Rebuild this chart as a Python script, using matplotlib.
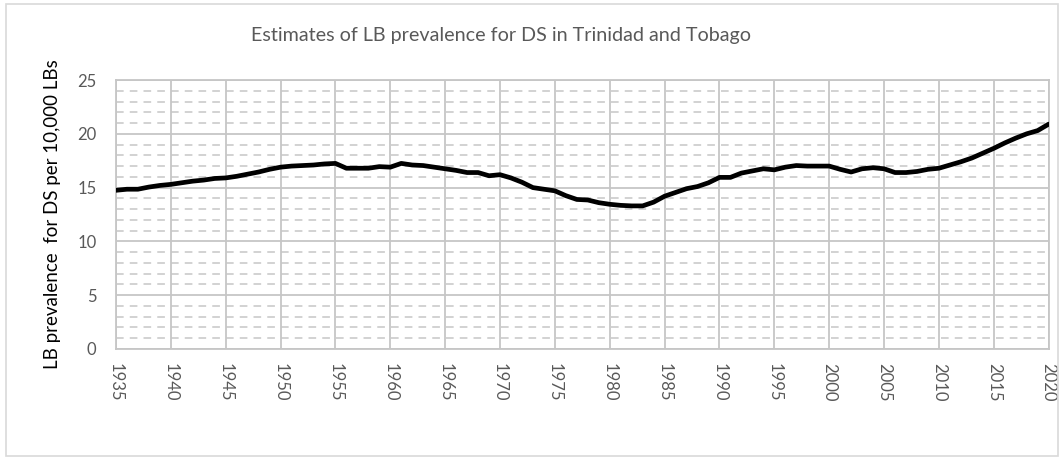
import matplotlib
matplotlib.use('Agg')
import matplotlib.pyplot as plt
from matplotlib.ticker import MultipleLocator
from matplotlib.patches import Rectangle

plt.rcParams['font.family'] = ['Lato', 'DejaVu Sans']

# estimates, one per year 1935..2020
years = list(range(1935, 2021))
prevalence = [
  14.75, 14.85, 14.85, 15.05, 15.2, 15.3, 15.45, 15.6, 15.7, 15.85,  # 1935-1944
  15.9, 16.05, 16.25, 16.45, 16.7, 16.9, 17.0, 17.05, 17.1, 17.2,    # 1945-1954
  17.25, 16.8, 16.8, 16.8, 16.95, 16.9, 17.25, 17.1, 17.05, 16.9,    # 1955-1964
  16.75, 16.6, 16.4, 16.4, 16.1, 16.2, 15.9, 15.5, 15.0, 14.85,      # 1965-1974
  14.7, 14.25, 13.9, 13.85, 13.6, 13.45, 13.35, 13.3, 13.3, 13.65,   # 1975-1984
  14.2, 14.55, 14.9, 15.1, 15.45, 15.95, 15.95, 16.35, 16.55, 16.75, # 1985-1994
  16.65, 16.9, 17.05, 17.0, 17.0, 17.0, 16.7, 16.45, 16.75, 16.85,   # 1995-2004
  16.75, 16.4, 16.4, 16.5, 16.7, 16.8, 17.1, 17.4, 17.75, 18.2,      # 2005-2014
  18.65, 19.15, 19.6, 20.0, 20.3, 20.9,                              # 2015-2020
]
year_ticks = list(range(1935, 2021, 5))

title = 'Estimates of LB prevalence for DS in Trinidad and Tobago'
ylabel = 'LB prevalence  for DS per 10,000 LBs'

fig = plt.figure(figsize=(10.6, 4.58), dpi=100)
ax = fig.add_axes([0.1094, 0.238, 0.8799, 0.5873])

# outer chart border
fig.patches.append(Rectangle((0.006, 0.004), 0.992, 0.988, transform=fig.transFigure,
                             fill=False, edgecolor='#d9d9d9', linewidth=1.2))

ax.plot(years, prevalence, color='black', linewidth=3.4, solid_capstyle='round', zorder=3)

ax.set_xlim(1935, 2020)
ax.set_ylim(0, 25)
ax.set_xticks(year_ticks)
ax.set_xticklabels([str(y) for y in year_ticks], rotation=-90)
ax.yaxis.set_major_locator(MultipleLocator(5))
ax.yaxis.set_minor_locator(MultipleLocator(1))

ax.grid(which='major', axis='both', color='#c6c6c6', linewidth=1.3)
ax.grid(which='minor', axis='y', color='#c6c6c6', linewidth=1.1, linestyle=(0, (5, 4)))
ax.set_axisbelow(True)

for s in ax.spines.values():
  s.set_color('#c6c6c6')
  s.set_linewidth(1.3)

ax.tick_params(which='both', length=0, colors='#595959', labelsize=12)
ax.tick_params(axis='x', pad=10)
ax.tick_params(axis='y', pad=14)

ax.set_ylabel(ylabel, fontsize=13.5, color='black')
ax.yaxis.set_label_coords(-55 / 933, 0.5)
fig.text(501 / 1060, 0.923, title, ha='center', va='center', fontsize=14.2, color='#595959')

fig.savefig('out.png', dpi=100)
